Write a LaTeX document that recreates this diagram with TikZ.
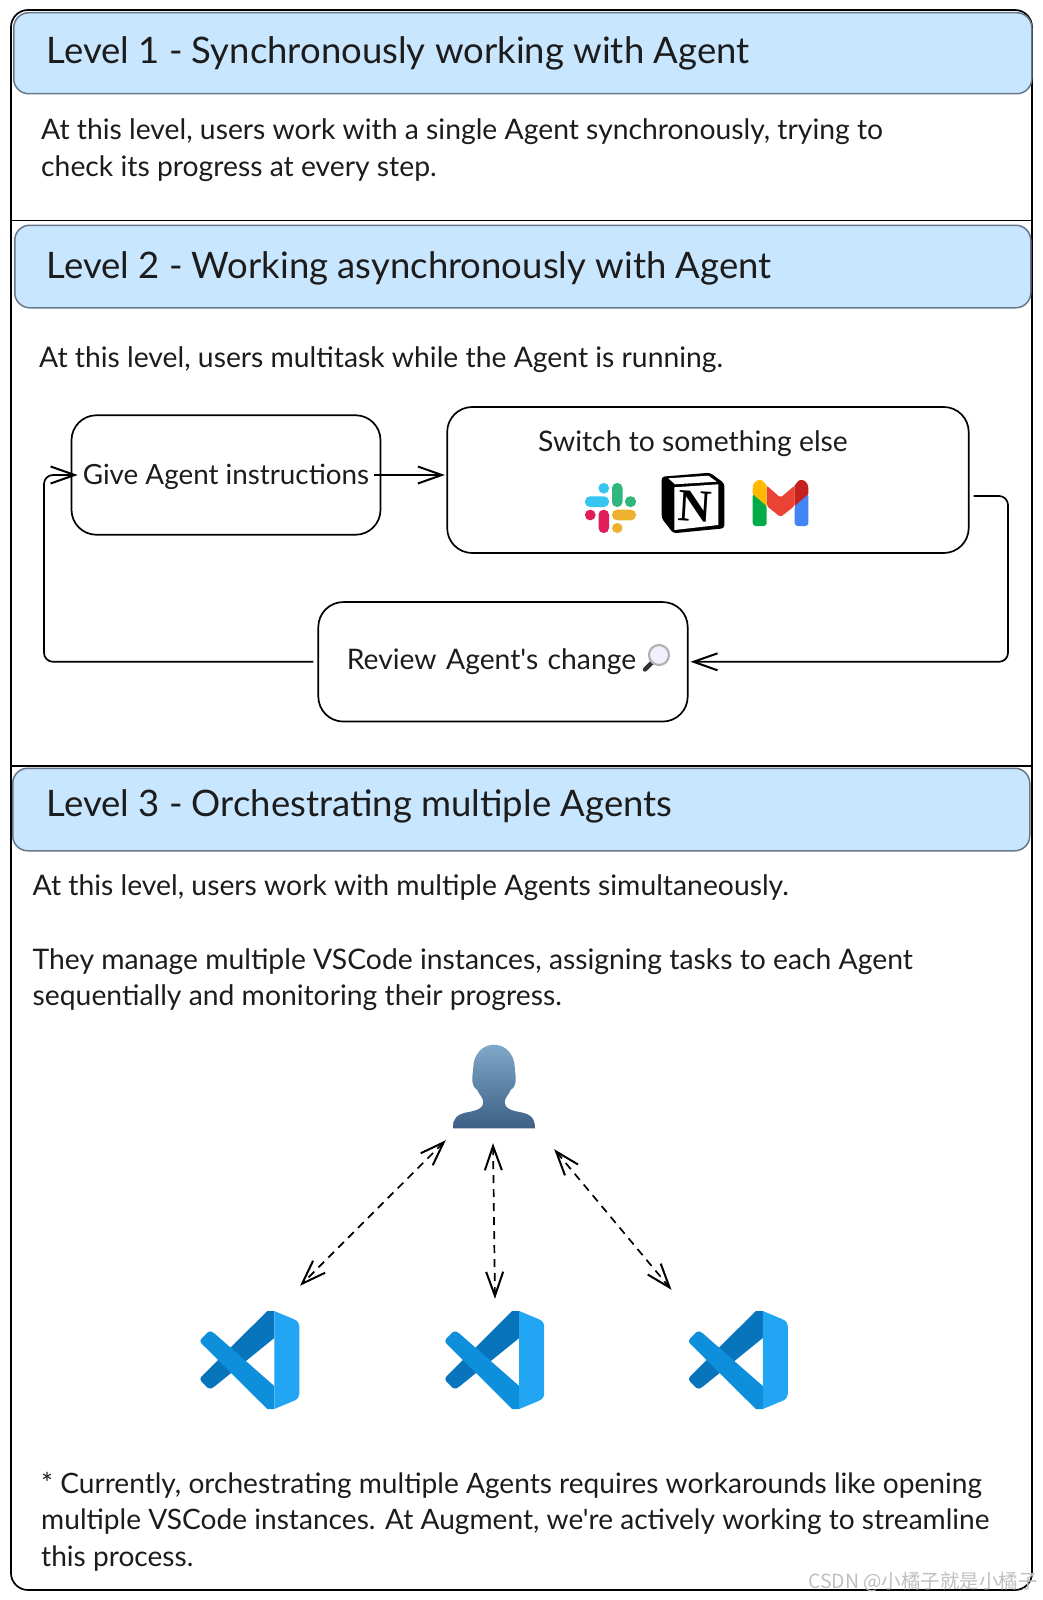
\documentclass[tikz,border=0pt]{standalone}
\usepackage{fontspec}
\setmainfont{Lato}[Ligatures=TeXOff]
\newfontfamily\serifcube{Liberation Serif}
\newfontfamily\cjkmark{Noto Sans CJK SC}
\usetikzlibrary{calc}
\usetikzlibrary{positioning}
\usetikzlibrary{arrows.meta}

\definecolor{headblue}{HTML}{C9E6FF}
\definecolor{headline}{HTML}{66788A}
\definecolor{inktext}{HTML}{1C1C1C}
\definecolor{codedark}{HTML}{0874BC}
\definecolor{codemid}{HTML}{0D8FDB}
\definecolor{codelight}{HTML}{22A5F2}
\definecolor{slackblue}{HTML}{36C5F0}
\definecolor{slackgreen}{HTML}{2EB67D}
\definecolor{slackred}{HTML}{E01E5A}
\definecolor{slackyellow}{HTML}{ECB22E}
\definecolor{gmailgreen}{HTML}{00AC47}
\definecolor{gmailblue}{HTML}{4285F4}
\definecolor{gmailred}{HTML}{EA4335}
\definecolor{gmailyellow}{HTML}{FFBA00}
\definecolor{gmaildark}{HTML}{C5221F}
\definecolor{usertop}{HTML}{7FA8C9}
\definecolor{userbottom}{HTML}{3D5F85}

\tikzset{
  pics/vscode/.style={code={
    \fill[codedark] (17.8,-49) -- (24.8,-49) -- (24.8,-22) -- (-35,26.5)
      .. controls (-37.5,28.5) and (-39.5,29.5) .. (-41.5,28) -- (-48,21.5)
      .. controls (-49.5,20) and (-49.5,18) .. (-48,16.5) -- cycle;
    \fill[codemid] (17.8,49) -- (24.8,49) -- (24.8,26) -- (-35,-26.5)
      .. controls (-37.5,-28.5) and (-39.5,-29.5) .. (-41.5,-28) -- (-48,-21.5)
      .. controls (-49.5,-20) and (-49.5,-18) .. (-48,-16.5) -- cycle;
    \fill[codelight] (24.8,-49) -- (44,-41)
      .. controls (48,-39.5) and (49.8,-37) .. (49.8,-33) -- (49.8,33)
      .. controls (49.8,37) and (48,39.5) .. (44,41) -- (24.8,49) -- cycle;
  }},
  pics/slack/.style={code={
    \fill[fill=slackblue, rounded corners=5pt] (-25.5,-11.7) rectangle (-1.5,-1);
    \fill[fill=slackblue, rounded corners=5pt] (-12,-25) rectangle (-1.5,-14.5);
    \fill[fill=slackgreen, rounded corners=5pt] (1.5,-25) rectangle (12,-1);
    \fill[fill=slackgreen, rounded corners=5pt] (14.5,-11.7) rectangle (25.5,-1);
    \fill[fill=slackred, rounded corners=5pt] (-25.5,1.7) rectangle (-15,12.3);
    \fill[fill=slackred, rounded corners=5pt] (-12,1.7) rectangle (-1.5,25);
    \fill[fill=slackyellow, rounded corners=5pt] (1.5,1.7) rectangle (25.5,12.3);
    \fill[fill=slackyellow, rounded corners=5pt] (1.5,15) rectangle (12,25);
  }},
  pics/notion/.style={code={
    \fill[black, rounded corners=3pt] (-31.3,-26.3) -- (17,-30.3) -- (31.3,-19.7)
      -- (31.3,25.3) -- (-19.7,30.3) -- (-31.3,15.3) -- cycle;
    \fill[white] (-24.7,-24.7) -- (15.3,-27.3) -- (23.7,-21.3) -- (-18,-18.7) -- cycle;
    \fill[white] (-18.7,-15.7) -- (25.3,-18.7) -- (25.3,22) -- (-18.7,27) -- cycle;
  }},
  pics/gmail/.style={code={
    \fill[gmailgreen, rounded corners=3pt] (-27.8,-9.7) -- (-13.8,2) -- (-13.8,23)
      -- (-27.8,23) -- cycle;
    \fill[gmailblue, rounded corners=3pt] (27.8,-9.7) -- (14.2,2) -- (14.2,23)
      -- (27.8,23) -- cycle;
    \fill[gmailred, rounded corners=2pt] (-13.8,-17.5) -- (0,-5.3) -- (14.2,-17.5)
      -- (14.2,3) -- (0,14) -- (-13.8,3) -- cycle;
    \fill[gmailyellow] (-13.8,3) -- (-27.8,-9) -- (-27.8,-15)
      .. controls (-27.8,-21) and (-23,-23.5) .. (-20,-23)
      .. controls (-18,-23) and (-16,-20) .. (-13.8,-17.5) -- cycle;
    \fill[gmaildark] (14.2,3) -- (27.8,-9) -- (27.8,-15)
      .. controls (27.8,-21) and (23,-23.5) .. (20,-23)
      .. controls (18,-23) and (16,-20) .. (14.2,-17.5) -- cycle;
  }},
  pics/magnifier/.style={code={
    \draw[line width=4.4pt, line cap=round, black!80] (-7,7.5) -- (-14,14.5);
    \draw[line width=2.2pt, fill=white!94!blue, draw=gray!60] (0,0) circle [radius=10];
  }},
  pics/person/.style={code={
    \shade[top color=usertop, bottom color=userbottom]
      (-41,41.8) .. controls (-41,32) and (-37,28) .. (-28,26)
      .. controls (-17,24) and (-10.7,22) .. (-10.7,16)
      .. controls (-10.7,11) and (-15,8) .. (-17,3)
      .. controls (-20,2) and (-22,-3) .. (-21.7,-8)
      .. controls (-22,-11) and (-21,-13) .. (-20.7,-20)
      .. controls (-20,-33) and (-11,-41.8) .. (0,-41.8)
      .. controls (11,-41.8) and (20,-33) .. (20.7,-20)
      .. controls (21,-13) and (22,-11) .. (21.7,-8)
      .. controls (22,-3) and (20,2) .. (17,3)
      .. controls (15,8) and (10.7,11) .. (10.7,16)
      .. controls (10.7,22) and (17,24) .. (28,26)
      .. controls (37,28) and (41,32) .. (41,41.8) -- cycle;
  }},
}

\begin{document}
\begin{tikzpicture}
  [
    x=1pt, y=-1pt,
    every node/.style={text=inktext},
    align=left
  ]
    \tikzset{
      >={Straight Barb[length=24pt,width=17pt,line width=2pt]},
      framestyle/.style = {rectangle, rounded corners=17pt, draw=black, line width=1.7pt,
                           minimum width=1021pt, minimum height=1580pt},
      headstyle/.style = {rectangle, rounded corners=15pt, draw=headline, line width=1.5pt,
                          fill=headblue, anchor=north west},
      headtext/.style = {anchor=base west, inner sep=0pt, font=\fontsize{36.5}{40}\selectfont},
      bodytext/.style = {anchor=base west, inner sep=0pt, font=\fontsize{28.3}{36.7}\selectfont},
      flowbox/.style = {rectangle, rounded corners=25pt, draw=black, line width=1.7pt,
                        inner sep=0pt, font=\fontsize{28.3}{36.7}\selectfont},
      iconbox/.style = {rectangle, inner sep=0pt},
      flow/.style = {->, line width=1.7pt, rounded corners=9pt},
      dual/.style = {<->, line width=1.7pt, dash pattern=on 8pt off 6pt},
    }
    \useasboundingbox (0,0) rectangle (1042,1600);

    \node (frame) [framestyle] at (521.5,800) {};
    \coordinate (splitone) at (0,220.5);
    \coordinate (splittwo) at (0,765.5);
    \draw[line width=1.7pt] (frame.west |- splitone) -- (frame.east |- splitone);
    \draw[line width=2pt] (frame.west |- splittwo) -- (frame.east |- splittwo);

    \node (headone) [headstyle, minimum width=1018pt, minimum height=81pt] at (13,12) {};
    \node (headtwo) [headstyle, minimum width=1016pt, minimum height=82.5pt] at (14,224.5) {};
    \node (headthree) [headstyle, minimum width=1017pt, minimum height=82.5pt] at (12,767.5) {};

    \node (titleone) [headtext] at (46.5,64) {Level 1 - Synchronously working with Agent};
    \node (titletwo) [headtext] at (46.5,278) {Level 2 - Working asynchronously with Agent};
    \node (titlethree) [headtext] at (46.5,816) {Level 3 - Orchestrating multiple Agents};

    \node (textone) [bodytext] at (41,176.3) {At this level, users work with a single Agent synchronously, trying to\\check its progress at every step.};
    \node (texttwo) [bodytext] at (39,367) {At this level, users multitask while the Agent is running.};
    \node (textthree) [bodytext] at (32.5,895.5) {At this level, users work with multiple Agents simultaneously.};
    \node (textfour) [bodytext] at (32.5,1005.8) {They manage multiple VSCode instances, assigning tasks to each Agent\\sequentially and monitoring their progress.};
    \node (textfive) [bodytext, font=\fontsize{28.1}{36.7}\selectfont] at (41,1566.6) {* Currently, orchestrating multiple Agents requires workarounds like opening\\multiple VSCode instances. At Augment, we're actively working to streamline\\this process.};

    \node (give) [flowbox, minimum width=309pt, minimum height=119.5pt, font=\fontsize{27.8}{36.7}\selectfont] at (226,475) {\raisebox{-9pt}[0pt][0pt]{Give Agent instructions}};
    \node (switch) [flowbox, minimum width=521.5pt, minimum height=146pt, right=65pt of give, yshift=-5pt] {};
    \node (switchtext) [bodytext, anchor=base] at (693,451) {Switch to something else};
    \node (review) [flowbox, minimum width=369.4pt, minimum height=119.5pt, inner xsep=28.5pt,
                    text width=312.4pt] at (503,661.8) {Review Agent's change};

    \pic at (610.5,508) {slack};
    \pic at (693,503) {notion};
    \node (notionmark) [iconbox, rotate=-3.5, font=\serifcube\bfseries\fontsize{46}{46}\selectfont, text=black] at (695,506) {N};
    \pic at (780.5,503) {gmail};
    \pic at (659,655) {magnifier};

    \coordinate (loopleft) at (44,661.8);
    \coordinate (loopright) at (1008,661.8);
    \draw[flow, shorten <=-7.6pt, shorten >=1.5pt] (give.east) -- (switch.west |- give.east);
    \draw[flow, shorten <=4pt, shorten >=-7pt] (review.west) -- (loopleft) -- (loopleft |- give.west) -- (give.west);
    \draw[flow, shorten <=4pt, shorten >=2pt] ($(switch.east)+(0,16)$) -| (loopright) -- (review.east);

    % user and the three editors
    \node (user) [iconbox, minimum width=84pt, minimum height=84pt] at (494,1086.5) {};
    \pic at (user) {person};
    \node (codeA) [iconbox, minimum width=100pt, minimum height=98pt] at (249.5,1360) {};
    \node (codeB) [iconbox, minimum width=100pt, minimum height=98pt] at (494.4,1360) {};
    \node (codeC) [iconbox, minimum width=100pt, minimum height=98pt] at (738,1360) {};
    \pic at (codeA) {vscode};
    \pic at (codeB) {vscode};
    \pic at (codeC) {vscode};

    \draw[dual] ([shift={(-6,11.5)}]user.south west) -- ([shift={(50.5,-25)}]codeA.north);
    \draw[dual] ([shift={(-1,14.5)}]user.south) -- ([shift={(0.6,-12)}]codeB.north);
    \draw[dual] ([shift={(18,20.5)}]user.south east) -- ([shift={(-66.5,-21)}]codeC.north);

    \node (watermark) [inner sep=0pt, text=gray!50, font=\cjkmark\fontsize{19.5}{22}\selectfont] at (923,1582) {CSDN @小橘子就是小橘子};
\end{tikzpicture}
\end{document}
